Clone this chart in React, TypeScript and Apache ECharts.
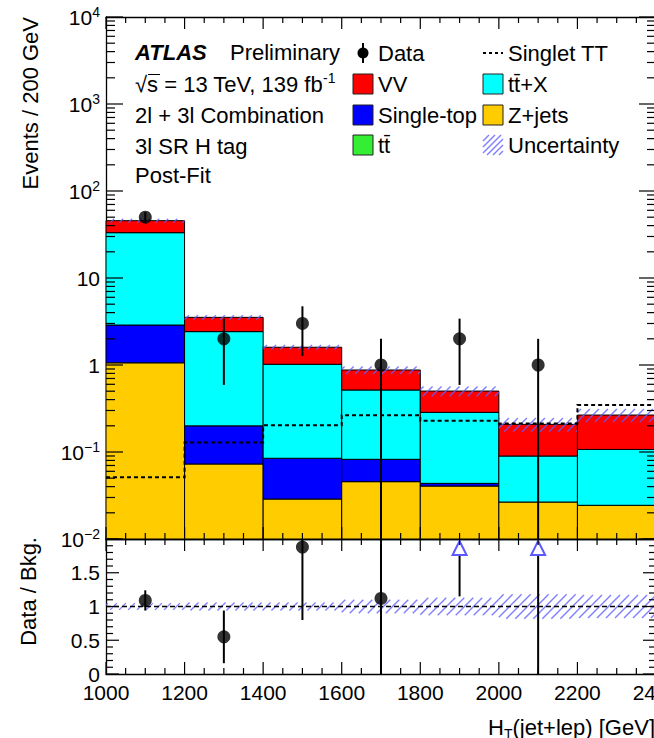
import React, { useEffect, useRef } from "react";
import * as echarts from "echarts";

const FONT = '"Liberation Sans", Arial, Helvetica, sans-serif';

// Bin edges of H_T(jet+lep) [GeV]
const binEdges = [1000, 1200, 1400, 1600, 1800, 2000, 2200, 2400];
// Stacked backgrounds (bottom to top)
const zjets = [1.06, 0.0728, 0.0288, 0.0456, 0.0406, 0.0266, 0.0244];
const singleTop = [1.82, 0.127, 0.0559, 0.0368, 0.003, 0, 0];
const ttbar = [0, 0, 0, 0, 0, 0, 0];
const ttX = [30.3, 2.22, 0.935, 0.434, 0.242, 0.0633, 0.0826];
const vv = [12.4, 1.11, 0.58, 0.36, 0.216, 0.118, 0.159];
// Relative background uncertainty per bin
const relUnc = [0.05, 0.06, 0.06, 0.1, 0.13, 0.18, 0.17];
// Signal (dashed)
const singletTT = [0.0512, 0.129, 0.203, 0.264, 0.229, 0.212, 0.347];
// Data
const dataX = [1100, 1300, 1500, 1700, 1900, 2100];
const dataVal = [50, 2, 3, 1, 2, 1];
const dataLo = [42.9, 0.59, 1.27, 0, 0.59, 0];
const dataHi = [57.1, 3.41, 4.73, 2, 3.41, 2];
// Ratio panel
const ratioX = [1100, 1300, 1500, 1700];
const ratioVal = [1.09, 0.55, 1.88, 1.12];
const ratioLo = [0.94, 0.16, 0.8, 0];
const ratioHi = [1.24, 0.94, 2.96, 2.24];
const arrowX = [1900, 2100];
const arrowLo = [1.15, 0];
// Axis ranges
const X_MIN = 1000, X_MAX = 2400, X_STEP = 200, X_MINOR = 50;
const Y_MIN = 0.01, Y_MAX = 10000;
const R_MIN = 0, R_MAX = 2, R_STEP = 0.5, R_MINOR = 0.1;

const COLORS = ["#ffcc00", "#0000ff", "#33ee33", "#00ffff", "#ff0000"];
const HATCH = "rgba(95,95,255,0.8)";

function hatchLines(x0: number, y0: number, x1: number, y1: number, step = 9) {
  const out: any[] = [];
  const start = Math.ceil((x0 + y0) / step) * step;
  for (let c = start; c <= x1 + y1; c += step) {
    const xa = Math.max(x0, c - y1);
    const xb = Math.min(x1, c - y0);
    if (xb <= xa) continue;
    out.push({
      type: "line",
      shape: { x1: xa, y1: c - xa, x2: xb, y2: c - xb },
      style: { stroke: HATCH, lineWidth: 1.4 },
    });
  }
  return out;
}

// tick positions (axis decoration)
const logTickVals: { v: number; major: boolean }[] = [];
for (let e = -2; e <= 4; e++) {
  logTickVals.push({ v: Math.pow(10, e), major: true });
  if (e < 4) for (let k = 2; k <= 9; k++) logTickVals.push({ v: k * Math.pow(10, e), major: false });
}
const xTickVals: { v: number; major: boolean }[] = [];
for (let v = X_MIN; v <= X_MAX + 1e-9; v += X_MINOR) xTickVals.push({ v, major: (v - X_MIN) % X_STEP === 0 });
const rTickVals: { v: number; major: boolean }[] = [];
for (let k = 0; k <= Math.round((R_MAX - R_MIN) / R_MINOR); k++) {
  const v = +(R_MIN + k * R_MINOR).toFixed(2);
  rTickVals.push({ v, major: k % 5 === 0 });
}

const logLabel = (v: number) => {
  const e = Math.round(Math.log10(v));
  if (e === 0) return "{b|1}";
  if (e === 1) return "{b|10}";
  return `{b|10}{s|${e < 0 ? "\u2212" + -e : e}}`;
};

const axisLine = { show: true, onZero: false, lineStyle: { color: "#000", width: 1.3 } };

function xAxis(gridIndex: number, position: string, showLabel: boolean) {
  return {
    type: "value", gridIndex, position, min: X_MIN, max: X_MAX, interval: X_STEP,
    axisLine,
    axisTick: { show: false },
    axisLabel: {
      show: showLabel, fontSize: 21, color: "#000", margin: 8, fontFamily: FONT,
      formatter: (v: number) => String(v),
    },
    splitLine: { show: false },
  };
}

function yLog(position: string, showLabel: boolean) {
  return {
    type: "log", logBase: 10, gridIndex: 0, position, min: Y_MIN, max: Y_MAX,
    axisLine,
    axisTick: { show: false },
    axisLabel: {
      show: showLabel, margin: 6, formatter: logLabel,
      rich: {
        b: { fontSize: 21, fontFamily: FONT, color: "#000", lineHeight: 24 },
        s: { fontSize: 14, fontFamily: FONT, color: "#000", verticalAlign: "top", lineHeight: 24 },
      },
    },
    splitLine: { show: false },
  };
}

function yRatio(position: string, showLabel: boolean) {
  return {
    type: "value", gridIndex: 1, position, min: R_MIN, max: R_MAX, interval: R_STEP,
    axisLine,
    axisTick: { show: false },
    axisLabel: {
      show: showLabel, margin: 6, fontSize: 21, color: "#000", fontFamily: FONT,
      formatter: (v: number) => (v >= R_MAX ? "" : String(v)),
    },
    splitLine: { show: false },
  };
}

const binData = binEdges.slice(0, -1).map((lo, i) => [lo, binEdges[i + 1]]);

// Ticks drawn as polylines through the axes' scales (api.coord)
function tickSeries(xAxisIndex: number, yAxisIndex: number, yTicks: { v: number; major: boolean }[], yLo: number, yHi: number, majL: number, minL: number) {
  return {
    type: "custom", xAxisIndex, yAxisIndex, silent: true, z: 8,
    data: [[X_MIN, yLo]],
    renderItem: (params: any, api: any) => {
      const tl = api.coord([X_MIN, yHi]);
      const br = api.coord([X_MAX, yLo]);
      const x0 = tl[0], y0 = tl[1], x1 = br[0], y1 = br[1];
      const children: any[] = [];
      const add = (ax: number, ay: number, bx: number, by: number) =>
        children.push({
          type: "polyline",
          shape: { points: [[ax, ay], [bx, by]] },
          style: { stroke: "#000", lineWidth: 1.2, fill: null },
        });
      yTicks.forEach((t) => {
        const y = api.coord([X_MIN, t.v])[1];
        const L = t.major ? majL : minL;
        add(x0, y, x0 + L, y);
        add(x1 - L, y, x1, y);
      });
      xTickVals.forEach((t) => {
        const x = api.coord([t.v, yLo])[0];
        const L = t.major ? 12 : 6;
        add(x, y1, x, y1 - L);
        add(x, y0, x, y0 + L);
      });
      return { type: "group", children };
    },
  };
}

function buildOption() {
  const stackSeries = {
    type: "custom", xAxisIndex: 0, yAxisIndex: 0, silent: true, z: 2,
    data: binData,
    renderItem: (params: any, api: any) => {
      const i = params.dataIndex;
      const lo = api.value(0), hi = api.value(1);
      const comps = [zjets[i], singleTop[i], ttbar[i], ttX[i], vv[i]];
      let cum = 0;
      const children: any[] = [];
      comps.forEach((v, k) => {
        if (v <= 0) return;
        const bottom = Math.max(cum, Y_MIN);
        cum += v;
        const p0 = api.coord([lo, bottom]);
        const p1 = api.coord([hi, cum]);
        children.push({
          type: "rect",
          shape: { x: p0[0], y: p1[1], width: p1[0] - p0[0], height: p0[1] - p1[1] },
          style: { fill: COLORS[k], stroke: "#000", lineWidth: 1 },
        });
      });
      return { type: "group", children };
    },
  };

  const uncUpper = {
    type: "custom", xAxisIndex: 0, yAxisIndex: 0, silent: true, z: 3,
    data: binData,
    renderItem: (params: any, api: any) => {
      const i = params.dataIndex;
      const tot = zjets[i] + singleTop[i] + ttbar[i] + ttX[i] + vv[i];
      const p0 = api.coord([api.value(0), tot * (1 + relUnc[i])]);
      const p1 = api.coord([api.value(1), tot * (1 - relUnc[i])]);
      return { type: "group", children: hatchLines(p0[0], p0[1], p1[0], p1[1]) };
    },
  };

  const signal = {
    type: "custom", xAxisIndex: 0, yAxisIndex: 0, silent: true, z: 4,
    data: [0],
    renderItem: (params: any, api: any) => {
      const pts: number[][] = [];
      singletTT.forEach((v, i) => {
        pts.push(api.coord([binEdges[i], v]));
        pts.push(api.coord([binEdges[i + 1], v]));
      });
      return {
        type: "polyline",
        shape: { points: pts },
        style: { stroke: "#000", lineWidth: 2, lineDash: [4, 3], fill: null },
      };
    },
  };

  const dataErr = {
    type: "custom", xAxisIndex: 0, yAxisIndex: 0, silent: true, z: 5,
    data: dataX.map((x, i) => [x, dataVal[i]]),
    renderItem: (params: any, api: any) => {
      const i = params.dataIndex;
      const cs = params.coordSys;
      const a = api.coord([dataX[i], Math.max(dataLo[i], Y_MIN)]);
      const b = api.coord([dataX[i], dataHi[i]]);
      return {
        type: "line",
        shape: { x1: a[0], y1: Math.min(a[1], cs.y + cs.height), x2: b[0], y2: Math.max(b[1], cs.y) },
        style: { stroke: "#000", lineWidth: 2 },
      };
    },
  };

  const dataPts = {
    type: "scatter", xAxisIndex: 0, yAxisIndex: 0, silent: true, z: 6,
    symbol: "circle", symbolSize: 13, itemStyle: { color: "#000" },
    data: dataX.map((x, i) => [x, dataVal[i]]),
  };

  const uncRatio = {
    type: "custom", xAxisIndex: 2, yAxisIndex: 2, silent: true, z: 3,
    data: binData,
    renderItem: (params: any, api: any) => {
      const i = params.dataIndex;
      const p0 = api.coord([api.value(0), 1 + relUnc[i]]);
      const p1 = api.coord([api.value(1), 1 - relUnc[i]]);
      return { type: "group", children: hatchLines(p0[0], p0[1], p1[0], p1[1]) };
    },
  };

  const unityLine = {
    type: "custom", xAxisIndex: 2, yAxisIndex: 2, silent: true, z: 4,
    data: [0],
    renderItem: (params: any, api: any) => {
      const a = api.coord([X_MIN, 1]);
      const b = api.coord([X_MAX, 1]);
      return {
        type: "line",
        shape: { x1: a[0], y1: a[1], x2: b[0], y2: b[1] },
        style: { stroke: "#000", lineWidth: 1.3, lineDash: [5, 3] },
      };
    },
  };

  const ratioErr = {
    type: "custom", xAxisIndex: 2, yAxisIndex: 2, silent: true, z: 5,
    data: ratioX.map((x, i) => [x, ratioVal[i]]),
    renderItem: (params: any, api: any) => {
      const i = params.dataIndex;
      const cs = params.coordSys;
      const a = api.coord([ratioX[i], ratioLo[i]]);
      const b = api.coord([ratioX[i], ratioHi[i]]);
      return {
        type: "line",
        shape: { x1: a[0], y1: Math.min(a[1], cs.y + cs.height), x2: b[0], y2: Math.max(b[1], cs.y) },
        style: { stroke: "#000", lineWidth: 2 },
      };
    },
  };

  const ratioPts = {
    type: "scatter", xAxisIndex: 2, yAxisIndex: 2, silent: true, z: 6,
    symbol: "circle", symbolSize: 13, itemStyle: { color: "#000" },
    data: ratioX.map((x, i) => [x, ratioVal[i]]),
  };

  const arrows = {
    type: "custom", xAxisIndex: 2, yAxisIndex: 2, silent: true, z: 6,
    data: arrowX.map((x, i) => [x, arrowLo[i]]),
    renderItem: (params: any, api: any) => {
      const i = params.dataIndex;
      const top = api.coord([arrowX[i], R_MAX]);
      const lo = api.coord([arrowX[i], arrowLo[i]]);
      const x = top[0];
      const tTop = top[1] + 2, tBot = top[1] + 16;
      return {
        type: "group",
        children: [
          { type: "line", shape: { x1: x, y1: lo[1], x2: x, y2: tBot }, style: { stroke: "#000", lineWidth: 2 } },
          {
            type: "polygon",
            shape: { points: [[x, tTop], [x - 7, tBot], [x + 7, tBot]] },
            style: { fill: "#fff", stroke: "#5a5aff", lineWidth: 2 },
          },
        ],
      };
    },
  };

  const txt = (text: string, x: number, y: number, extra: any = {}) => ({
    type: "text", x, y, silent: true, z: 20,
    style: { text, fontSize: 22, fontFamily: FONT, fill: "#000", verticalAlign: "middle", align: "left", ...extra },
  });
  const box = (x: number, y: number, fill: string) => ({
    type: "rect", silent: true, z: 20,
    shape: { x, y: y - 10, width: 20, height: 20 },
    style: { fill, stroke: "#222", lineWidth: 1 },
  });

  const legendHatch: any[] = hatchLines(483, 135, 503, 155, 6);
  const graphic: any[] = [
    txt("ATLAS", 135, 52, { fontStyle: "italic", fontWeight: "bold" }),
    txt("Preliminary", 230, 52),
    txt("{n|\u221As = 13 TeV, 139 fb}{s|-1}", 135, 84, {
      rich: {
        n: { fontSize: 22, fontFamily: FONT, fill: "#000", lineHeight: 26 },
        s: { fontSize: 14, fontFamily: FONT, fill: "#000", verticalAlign: "top", lineHeight: 26 },
      },
    }),
    { type: "line", silent: true, z: 20, shape: { x1: 148, y1: 74.5, x2: 160, y2: 74.5 }, style: { stroke: "#000", lineWidth: 1 } },
    txt("2l + 3l Combination", 135, 115),
    txt("3l SR H tag", 135, 146),
    txt("Post-Fit", 135, 175),
    // legend column 1
    { type: "line", silent: true, z: 20, shape: { x1: 363, y1: 43, x2: 363, y2: 63 }, style: { stroke: "#000", lineWidth: 2 } },
    { type: "circle", silent: true, z: 20, shape: { cx: 363, cy: 53, r: 5.5 }, style: { fill: "#000" } },
    txt("Data", 378, 53),
    box(353, 84, COLORS[4]),
    txt("VV", 378, 84),
    box(353, 115, COLORS[1]),
    txt("Single-top", 378, 115),
    box(353, 145, COLORS[2]),
    txt("tt\u0304", 378, 145),
    // legend column 2
    { type: "line", silent: true, z: 20, shape: { x1: 483, y1: 53, x2: 503, y2: 53 }, style: { stroke: "#000", lineWidth: 2, lineDash: [3, 3] } },
    txt("Singlet TT", 508, 53),
    box(483, 84, COLORS[3]),
    txt("tt\u0304+X", 508, 84),
    box(483, 115, COLORS[0]),
    txt("Z+jets", 508, 115),
    { type: "group", silent: true, z: 20, children: legendHatch },
    txt("Uncertainty", 508, 145),
    // axis titles
    { ...txt("Events / 200 GeV", 30, 17, { align: "right" }), rotation: Math.PI / 2 },
    { ...txt("Data / Bkg.", 28, 537, { align: "right" }), rotation: Math.PI / 2 },
    txt("{n|H}{t|T}{n|(jet+lep) [GeV]}", 655, 727, {
      align: "right",
      rich: {
        n: { fontSize: 22, fontFamily: FONT, fill: "#000", lineHeight: 28 },
        t: { fontSize: 14, fontFamily: FONT, fill: "#000", verticalAlign: "bottom", lineHeight: 28 },
      },
    }),
  ];

  return {
    animation: false,
    backgroundColor: "#fff",
    textStyle: { fontFamily: FONT },
    grid: [
      { left: 106, top: 17, width: 550, height: 522 },
      { left: 106, top: 539, width: 550, height: 135 },
    ],
    xAxis: [xAxis(0, "bottom", false), xAxis(0, "top", false), xAxis(1, "bottom", true), xAxis(1, "top", false)],
    yAxis: [yLog("left", true), yLog("right", false), yRatio("left", true), yRatio("right", false)],
    series: [
      stackSeries, uncUpper, signal, dataErr, dataPts,
      uncRatio, unityLine, ratioErr, ratioPts, arrows,
      tickSeries(0, 0, logTickVals, Y_MIN, Y_MAX, 17, 9),
      tickSeries(2, 2, rTickVals, R_MIN, R_MAX, 13, 7),
    ],
    graphic,
  };
}

export default function App() {
  const ref = useRef<HTMLDivElement>(null);
  useEffect(() => {
    if (!ref.current) return;
    const chart = echarts.init(ref.current, null, { renderer: "svg" });
    chart.setOption(buildOption() as any);
    return () => chart.dispose();
  }, []);
  return (
    <div style={{ position: "fixed", left: 0, top: 0, width: 654, height: 738, overflow: "hidden", background: "#fff" }}>
      <div ref={ref} style={{ width: 700, height: 738 }} />
    </div>
  );
}
